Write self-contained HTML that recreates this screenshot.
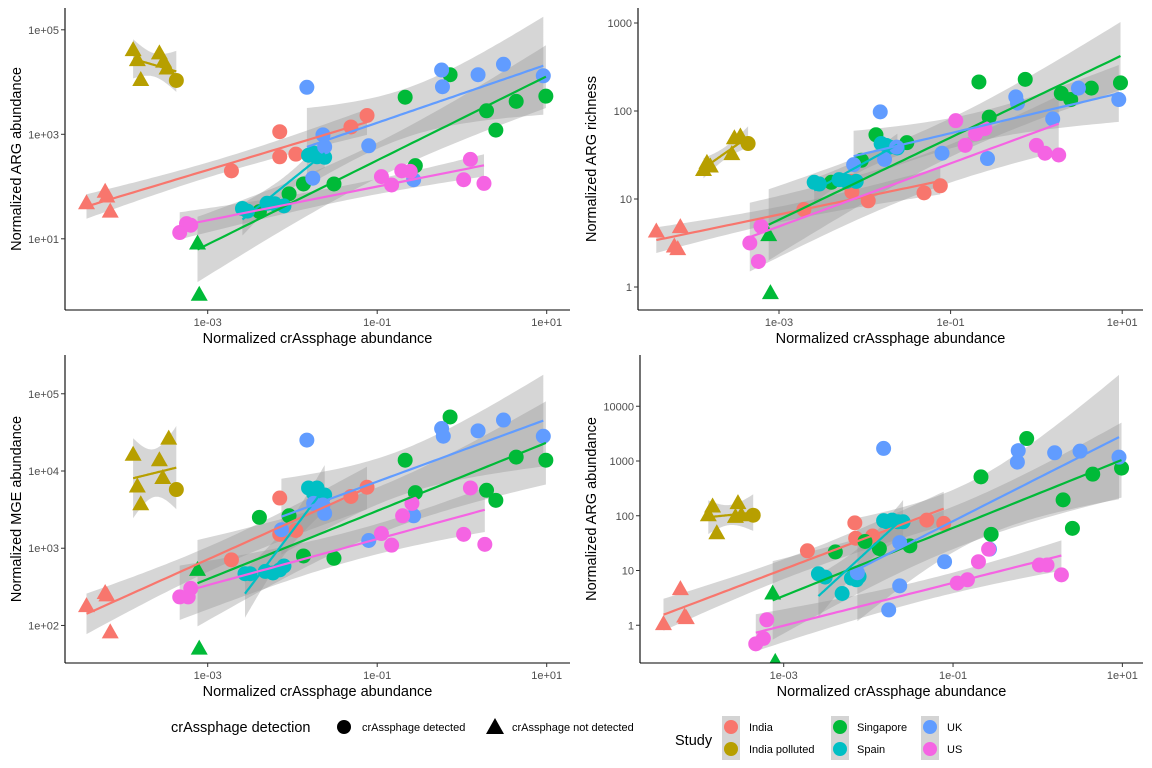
<!DOCTYPE html>
<html><head><meta charset="utf-8">
<style>
body{margin:0;background:#fff;}
svg{display:block;font-family:"Liberation Sans",Arial,sans-serif;}
</style></head>
<body>
<svg id="chart" width="1152" height="768" viewBox="0 0 1152 768" xmlns="http://www.w3.org/2000/svg"></svg>
<script>
// ---- shared data ----
const groups = ["India","India polluted","Singapore","Spain","UK","US"];
const groupColors = ["#F8766D","#B79F00","#00BA38","#00BFC4","#619CFF","#F564E3"];
// number of leading samples per group where crAssphage was not detected (triangles)
const notDetectedCount = [4,6,2,0,0,0];
const xTickVals = [-3,-1,1];
const xTickLabels = ["1e-03","1e-01","1e+01"];

// ---- Panel 1: ARG abundance (log10 values) ----
const p1x = [
 [-4.43,-4.21,-4.19,-4.15,-2.72,-2.15,-2.15,-1.96,-1.31,-1.12],
 [-3.88,-3.83,-3.79,-3.57,-3.52,-3.48,-3.37],
 [-3.12,-3.10,-2.39,-2.04,-1.87,-1.51,-0.67,-0.55,-0.14,0.29,0.40,0.64,0.99],
 [-2.59,-2.53,-2.30,-2.21,-2.10,-1.81,-1.75,-1.71,-1.62],
 [-1.83,-1.76,-1.64,-1.62,-1.10,-0.57,-0.24,-0.23,0.19,0.49,0.96],
 [-3.33,-3.25,-3.20,-0.95,-0.83,-0.71,-0.61,0.02,0.10,0.26]];
const p1y = [
 [1.68,1.90,1.81,1.52,2.30,3.05,2.57,2.62,3.14,3.36],
 [4.61,4.42,4.04,4.55,4.39,4.26,4.03],
 [0.91,-0.07,1.52,1.86,2.05,2.05,3.71,2.40,4.14,3.45,3.08,3.63,3.73],
 [1.58,1.53,1.68,1.67,1.63,2.60,2.64,2.57,2.56],
 [3.90,2.16,2.99,2.76,2.78,2.13,4.23,3.91,4.14,4.34,4.12],
 [1.12,1.29,1.26,2.19,2.03,2.30,2.29,2.13,2.52,2.06]];
const p1yTicks = [1,3,5];
const p1yLabels = ["1e+01","1e+03","1e+05"];

// ---- Panel 2: ARG richness ----
const p2x = [
 [-4.43,-4.15,-4.22,-4.18,-2.71,-2.15,-2.15,-1.96,-1.31,-1.12],
 [-3.88,-3.84,-3.80,-3.55,-3.52,-3.45,-3.36],
 [-3.12,-3.10,-2.39,-2.04,-1.87,-1.51,-0.67,-0.55,-0.13,0.29,0.40,0.64,0.98],
 [-2.59,-2.53,-2.30,-2.21,-2.10,-1.81,-1.75,-1.71,-1.62],
 [-2.13,-1.82,-1.77,-1.63,-1.10,-0.57,-0.24,-0.22,0.19,0.49,0.96],
 [-3.34,-3.24,-3.21,-0.94,-0.83,-0.71,-0.60,0.00,0.10,0.26]];
const p2y = [
 [0.63,0.68,0.46,0.43,0.88,1.20,1.08,0.98,1.07,1.15],
 [1.33,1.41,1.37,1.51,1.69,1.71,1.63],
 [0.59,-0.07,1.19,1.44,1.73,1.64,2.33,1.93,2.36,2.20,2.13,2.26,2.32],
 [1.19,1.17,1.22,1.20,1.20,1.63,1.61,1.59,1.58],
 [1.39,1.99,1.45,1.59,1.52,1.46,2.16,2.09,1.91,2.26,2.13],
 [0.50,0.29,0.69,1.89,1.61,1.74,1.80,1.61,1.52,1.50]];
const p2yTicks = [0,1,2,3];
const p2yLabels = ["1","10","100","1000"];

// ---- Panel 3: MGE abundance ----
const p3x = [
 [-4.43,-4.21,-4.19,-4.15,-2.72,-2.15,-2.15,-1.96,-1.31,-1.12],
 [-3.88,-3.83,-3.79,-3.57,-3.53,-3.46,-3.37],
 [-3.12,-3.10,-2.39,-2.04,-1.87,-1.51,-0.67,-0.55,-0.14,0.29,0.40,0.64,0.99],
 [-2.56,-2.50,-2.32,-2.23,-2.15,-2.10,-1.81,-1.75,-1.71,-1.62],
 [-2.13,-1.83,-1.75,-1.64,-1.62,-1.10,-0.57,-0.24,-0.22,0.19,0.49,0.96],
 [-3.33,-3.23,-3.20,-0.95,-0.83,-0.70,-0.59,0.02,0.10,0.27]];
const p3y = [
 [2.25,2.42,2.39,1.91,2.85,3.65,3.18,3.23,3.67,3.79],
 [4.21,3.80,3.57,4.14,3.91,4.42,3.76],
 [2.72,1.70,3.40,3.42,2.90,2.87,4.14,3.72,4.70,3.75,3.62,4.18,4.14],
 [2.67,2.67,2.70,2.68,2.72,2.77,3.78,3.71,3.78,3.69],
 [3.24,4.40,3.58,3.56,3.45,3.10,3.42,4.55,4.45,4.52,4.66,4.45],
 [2.37,2.37,2.48,3.19,3.04,3.42,3.58,3.18,3.78,3.05]];
const p3yTicks = [2,3,4,5];
const p3yLabels = ["1e+02","1e+03","1e+04","1e+05"];

// ---- Panel 4: ARG abundance ----
const p4x = [
 [-4.42,-4.22,-4.17,-4.15,-2.72,-2.16,-2.15,-1.95,-1.31,-1.11],
 [-3.89,-3.84,-3.79,-3.57,-3.54,-3.50,-3.36],
 [-3.13,-3.10,-2.39,-2.04,-1.87,-1.51,-0.67,-0.55,-0.13,0.30,0.41,0.65,0.99],
 [-2.59,-2.51,-2.31,-2.20,-2.14,-2.11,-1.82,-1.78,-1.72,-1.65,-1.59],
 [-1.82,-2.13,-1.76,-1.63,-1.63,-1.10,-0.57,-0.23,-0.24,0.20,0.50,0.96],
 [-3.33,-3.24,-3.20,-0.95,-0.83,-0.70,-0.58,0.02,0.11,0.28]];
const p4y = [
 [0.02,0.66,0.16,0.13,1.36,1.87,1.59,1.63,1.92,1.86],
 [2.01,2.17,1.68,1.98,2.23,2.01,2.01],
 [0.58,-0.67,1.34,1.53,1.40,1.45,2.71,1.66,3.41,2.29,1.77,2.76,2.87],
 [0.94,0.88,0.58,0.86,0.83,0.89,1.91,1.89,1.92,1.89,1.89],
 [3.23,0.96,0.28,1.51,0.72,1.16,1.39,3.19,2.98,3.15,3.18,3.07],
 [-0.34,-0.24,0.10,0.77,0.83,1.16,1.39,1.10,1.10,0.92]];
const p4yTicks = [0,1,2,3,4];
const p4yLabels = ["1","10","100","1000","10000"];

const NS = "http://www.w3.org/2000/svg";
const svg = document.getElementById("chart");
function mk(tag, attrs, parent){
  const e = document.createElementNS(NS, tag);
  for (const k in attrs) e.setAttribute(k, attrs[k]);
  (parent||svg).appendChild(e);
  return e;
}
const tTable = [0,12.71,4.30,3.18,2.78,2.57,2.45,2.36,2.31,2.26,2.23,2.20,2.18,2.16];

const panels = [
 {id:"arg-abundance-top", xs:p1x, ys:p1y, yt:p1yTicks, yl:p1yLabels, box:[65,8,570,310],
  xA:[-3,207.7,84.75], yA:[3,134.3,52.25], ytitle:"Normalized ARG abundance", ytx:16},
 {id:"arg-richness", xs:p2x, ys:p2y, yt:p2yTicks, yl:p2yLabels, box:[638,8,1143,310],
  xA:[-3,779,85.8], yA:[2,111,88], ytitle:"Normalized ARG richness", ytx:591},
 {id:"mge-abundance", xs:p3x, ys:p3y, yt:p3yTicks, yl:p3yLabels, box:[65,355,570,663],
  xA:[-3,207.7,84.75], yA:[4,471,77.23], ytitle:"Normalized MGE abundance", ytx:16},
 {id:"arg-abundance-bottom", xs:p4x, ys:p4y, yt:p4yTicks, yl:p4yLabels, box:[640,355,1143,663],
  xA:[-3,783.7,84.67], yA:[3,461,54.75], ytitle:"Normalized ARG abundance", ytx:591}
];

panels.forEach((P, pi) => {
  const [L,T,R,B] = P.box;
  const sx = v => P.xA[1] + (v - P.xA[0]) * P.xA[2];
  const sy = v => P.yA[1] - (v - P.yA[0]) * P.yA[2];
  const g = mk("g", {});
  
  
  const clip = mk("clipPath", {id:"clip"+pi}, g);
  mk("rect", {x:L, y:T, width:R-L, height:B-T}, clip);
  const plot = mk("g", {"clip-path":"url(#clip"+pi+")"}, g);
  
  

  // regression fits
  const fits = groups.map((gn, gi) => {
    const xs = P.xs[gi], ys = P.ys[gi], n = xs.length;
    const mx = xs.reduce((a,b)=>a+b,0)/n, my = ys.reduce((a,b)=>a+b,0)/n;
    let sxx=0, sxy=0;
    for (let i=0;i<n;i++){ sxx += (xs[i]-mx)**2; sxy += (xs[i]-mx)*(ys[i]-my); }
    const b = sxy/sxx, a = my - b*mx;
    let sse=0; for (let i=0;i<n;i++) sse += (ys[i]-a-b*xs[i])**2;
    const s = Math.sqrt(sse/(n-2));
    const t = tTable[Math.min(n-2, tTable.length-1)];
    const x0 = Math.min(...xs), x1 = Math.max(...xs);
    const up=[], lo=[], ln=[];
    for (let k=0;k<=60;k++){
      const x = x0 + (x1-x0)*k/60, yh = a+b*x;
      const se = s*Math.sqrt(1/n + (x-mx)**2/sxx);
      up.push([sx(x), sy(yh+t*se)]); lo.push([sx(x), sy(yh-t*se)]); ln.push([sx(x), sy(yh)]);
    }
    return {up, lo, ln};
  });
  fits.forEach((f, gi) => {
    const pts = f.up.concat(f.lo.slice().reverse()).map(p=>p[0].toFixed(1)+","+p[1].toFixed(1)).join(" ");
    const rb = mk("polygon", {points:pts, fill:"#999999", "fill-opacity":0.4}, plot);
    
    
  });
  // points
  groups.forEach((gn, gi) => {
    const xs = P.xs[gi], ys = P.ys[gi];
    for (let i=0;i<xs.length;i++){
      const cx = sx(xs[i]), cy = sy(ys[i]);
      let el;
      if (i < notDetectedCount[gi]) {
        el = mk("polygon", {points:`${cx},${cy-9} ${cx-8.5},${cy+6} ${cx+8.5},${cy+6}`, fill:groupColors[gi]}, plot);
      } else {
        el = mk("circle", {cx, cy, r:7.5, fill:groupColors[gi]}, plot);
      }
      
      
    }
  });
  // lines
  fits.forEach((f, gi) => {
    const ln = mk("polyline", {points:f.ln.map(p=>p[0].toFixed(1)+","+p[1].toFixed(1)).join(" "), fill:"none", stroke:groupColors[gi], "stroke-width":2.2}, plot);
    
    
  });
  // axes
  const ax = mk("line", {x1:L, y1:B, x2:R, y2:B, stroke:"#000", "stroke-width":1.1}, g);
  
  
  const ay = mk("line", {x1:L, y1:T, x2:L, y2:B, stroke:"#000", "stroke-width":1.1}, g);
  
  
  xTickVals.forEach((v, i) => {
    const x = sx(v);
    mk("line", {x1:x, y1:B, x2:x, y2:B+4, stroke:"#333"}, g);
    const tx = mk("text", {x, y:B+16, "text-anchor":"middle", "font-size":11, fill:"#4d4d4d"}, g);
    tx.textContent = xTickLabels[i];
    
    
  });
  P.yt.forEach((v, i) => {
    const y = sy(v);
    mk("line", {x1:L-4, y1:y, x2:L, y2:y, stroke:"#333"}, g);
    const ty = mk("text", {x:L-6, y:y+4, "text-anchor":"end", "font-size":11, fill:"#4d4d4d"}, g);
    ty.textContent = P.yl[i];
    
    
  });
  const xt = mk("text", {x:(L+R)/2, y:B+33, "text-anchor":"middle", "font-size":14.5, fill:"#000"}, g);
  xt.textContent = "Normalized crAssphage abundance";
  
  
  const cyT = (T+B)/2;
  const yt = mk("text", {x:P.ytx, y:cyT, "text-anchor":"middle", "font-size":14.5, fill:"#000", transform:`rotate(-90 ${P.ytx} ${cyT})`, dy:"0.35em"}, g);
  yt.textContent = P.ytitle;
  
  
});

// ---- legends ----
const lg = mk("g", {});


function txt(x, y, s, size, name, anchor){
  const t = mk("text", {x, y, "font-size":size, fill:"#000", "text-anchor":anchor||"start"}, lg);
  t.textContent = s;
  
  
  return t;
}
txt(171, 732, "crAssphage detection", 14.5, "shape-legend-title");
const lc = mk("circle", {cx:344, cy:727, r:7, fill:"#000"}, lg);


txt(362, 731, "crAssphage detected", 11, "legend-label-detected");
const lt = mk("polygon", {points:"495,718 486,734 504,734", fill:"#000"}, lg);


txt(512, 731, "crAssphage not detected", 11, "legend-label-not-detected");
txt(675, 745, "Study", 14.5, "color-legend-title");
const keyX = [722, 831, 921], labX = [749, 857, 947];
groups.forEach((gn, gi) => {
  const col = Math.floor(gi/2), row = gi%2;
  const ky = 716 + row*22;
  const kb = mk("rect", {x:keyX[col], y:ky, width:18, height:22, fill:"#d4d4d4"}, lg);
  
  
  const kc = mk("circle", {cx:keyX[col]+9, cy:ky+11, r:7, fill:groupColors[gi]}, lg);
  
  
  txt(labX[col], ky+15, gn, 11, "legend-label");
});
</script>
</body></html>
